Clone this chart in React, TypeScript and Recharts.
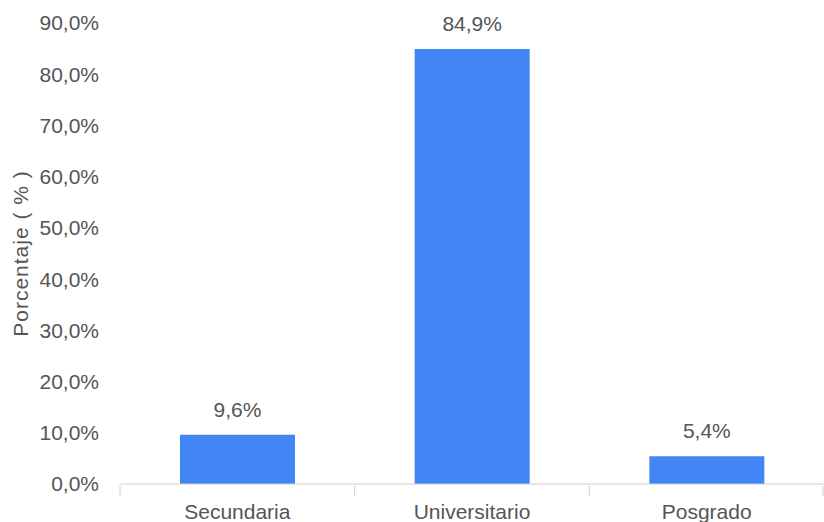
import { BarChart, Bar, XAxis, YAxis, LabelList, Label } from "recharts";

const niveles = ["Secundaria", "Universitario", "Posgrado"];
const porcentajes = [9.6, 84.9, 5.4];
const yTicks = [0, 10, 20, 30, 40, 50, 60, 70, 80, 90];

const data = niveles.map((nivel, i) => ({ nivel, valor: porcentajes[i] }));

const FONT = "'Liberation Sans', Arial, sans-serif";
const TEXT = "#555555";

const pct = (v: number) => v.toFixed(1).replace(".", ",") + "%";

function CategoryTick(props: any) {
  const { x, y, payload, index, visibleTicksCount } = props;
  const half = payload?.offset ?? 117;
  return (
    <g>
      <line x1={x - half} x2={x - half} y1={y - 6} y2={y + 4} stroke="#d0d0d0" />
      {index === visibleTicksCount - 1 && (
        <line x1={x + half - 1} x2={x + half - 1} y1={y - 6} y2={y + 4} stroke="#d0d0d0" />
      )}
      <text
        x={x}
        y={y + 12}
        dy="0.71em"
        textAnchor="middle"
        fill={TEXT}
        fontSize={21}
        fontFamily={FONT}
      >
        {payload.value}
      </text>
    </g>
  );
}

export default function App() {
  return (
    <div style={{ position: "absolute", left: 0, top: 0, background: "#fff" }}>
      <BarChart
        width={824}
        height={522}
        data={data}
        margin={{ top: 23, right: 0, bottom: 0, left: 0 }}
      >
        <XAxis
          dataKey="nivel"
          axisLine={{ stroke: "#d0d0d0" }}
          tickLine={false}
          tick={<CategoryTick />}
          interval={0}
          height={38}
        />
        <YAxis
          domain={[0, 90]}
          ticks={yTicks}
          width={120}
          axisLine={false}
          tickLine={false}
          tickSize={0}
          tickMargin={21}
          tickFormatter={pct}
          tick={{ fill: TEXT, fontSize: 21, fontFamily: FONT }}
        >
          <Label
            content={(p: any) => {
              const vb = p.viewBox || {};
              const cy = (vb.y ?? 23) + (vb.height ?? 461) / 2;
              return (
                <text
                  x={20}
                  y={cy}
                  transform={`rotate(-90, 20, ${cy})`}
                  textAnchor="middle"
                  dominantBaseline="central"
                  fill={TEXT}
                  fontSize={21}
                  fontFamily={FONT}
                  letterSpacing={1}
                >
                  Porcentaje ( % )
                </text>
              );
            }}
          />
        </YAxis>
        <Bar dataKey="valor" fill="#4285F4" barSize={115} isAnimationActive={false}>
          <LabelList
            dataKey="valor"
            position="top"
            offset={18}
            formatter={(v: any) => pct(Number(v))}
            fill={TEXT}
            fontSize={21}
            fontFamily={FONT}
          />
        </Bar>
      </BarChart>
    </div>
  );
}
